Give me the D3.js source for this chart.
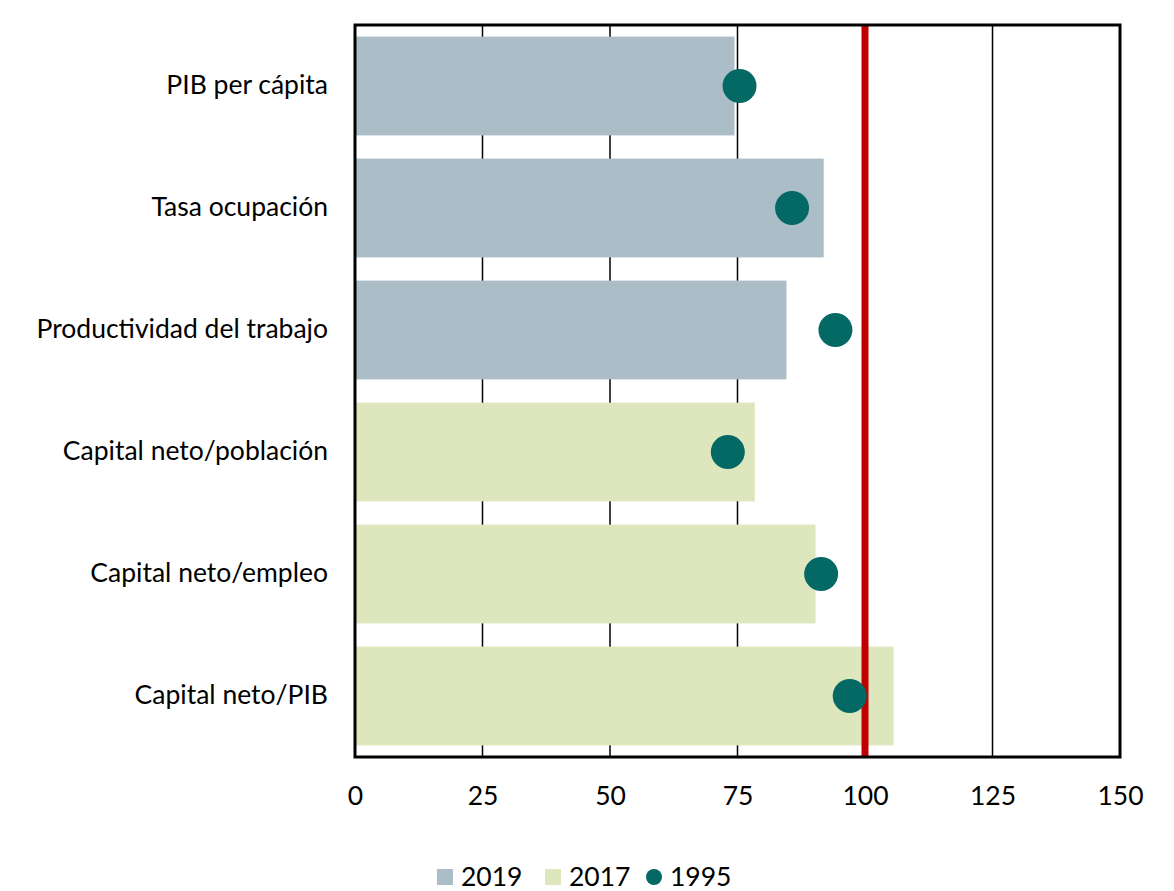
<!DOCTYPE html>
<html>
<head>
<meta charset="utf-8">
<script src="https://cdn.jsdelivr.net/npm/d3@7"></script>
<style>
  body { margin: 0; background: #fff; }
  text { font-family: Lato, "Open Sans", sans-serif; fill: #000; }
</style>
</head>
<body>
<div id="chart"></div>
<script>
// values
let categories = ["PIB per cápita", "Tasa ocupación", "Productividad del trabajo",
	"Capital neto/población", "Capital neto/empleo", "Capital neto/PIB"];
let barValues = [74.4, 91.9, 84.6, 78.4, 90.3, 105.6];
let barSeries = ["2019", "2019", "2019", "2017", "2017", "2017"];
let dotValues = [75.4, 85.7, 94.2, 73.1, 91.4, 97.0];
let xTicks = [0, 25, 50, 75, 100, 125, 150];
let refValue = 100;
let legendItems = ["2019", "2017", "1995"];

let width = 1174;
let height = 891;
let margin = {top: 25, right: 54, bottom: 134, left: 355};
let fontSize = "26.5px";

let colors = {"2019": "#abbec7", "2017": "#dee6bd", "1995": "#046864"};

let svg = d3.select("#chart")
	.append("svg")
	.attr("width", width)
	.attr("height", height);

let x = d3.scaleLinear()
	.domain([0, 150])
	.range([margin.left, width - margin.right]);

let y = d3.scaleBand()
	.domain(categories)
	.range([margin.top, height - margin.bottom])
	.paddingInner(0.19)
	.paddingOuter(0.095);

// vertical gridlines
svg.append("g")
	.selectAll("line")
	.data(xTicks.slice(1, -1))
	.enter().append("line")
	.attr("x1", d => x(d))
	.attr("x2", d => x(d))
	.attr("y1", margin.top)
	.attr("y2", height - margin.bottom)
	.attr("stroke", "#000")
	.attr("stroke-width", 1.5);

// bars
svg.append("g")
	.selectAll("rect")
	.data(categories)
	.enter().append("rect")
	.attr("x", x(0))
	.attr("y", d => y(d))
	.attr("width", (d, i) => x(barValues[i]) - x(0))
	.attr("height", y.bandwidth())
	.attr("fill", (d, i) => colors[barSeries[i]]);

// reference line at 100
svg.append("line")
	.attr("x1", x(refValue))
	.attr("x2", x(refValue))
	.attr("y1", margin.top)
	.attr("y2", height - margin.bottom)
	.attr("stroke", "#c00000")
	.attr("stroke-width", 7);

// 1995 dots
svg.append("g")
	.selectAll("circle")
	.data(categories)
	.enter().append("circle")
	.attr("cx", (d, i) => x(dotValues[i]))
	.attr("cy", d => y(d) + y.bandwidth() / 2)
	.attr("r", 17)
	.attr("fill", colors["1995"]);

// frame
svg.append("rect")
	.attr("x", margin.left)
	.attr("y", margin.top)
	.attr("width", width - margin.left - margin.right)
	.attr("height", height - margin.top - margin.bottom)
	.attr("fill", "none")
	.attr("stroke", "#000")
	.attr("stroke-width", 3);

// x axis labels
let xAxis = svg.append("g")
	.attr("transform", `translate(0,${height - margin.bottom})`)
	.call(d3.axisBottom(x).tickValues(xTicks).tickSize(0).tickPadding(29));
xAxis.select(".domain").remove();
xAxis.selectAll("text")
	.style("font-size", fontSize)
	.style("font-family", "Lato, 'Open Sans', sans-serif");

// category labels
let yAxis = svg.append("g")
	.attr("transform", `translate(${margin.left},0)`)
	.call(d3.axisLeft(y).tickSize(0).tickPadding(27));
yAxis.select(".domain").remove();
yAxis.selectAll("text")
	.style("font-size", fontSize)
	.style("font-family", "Lato, 'Open Sans', sans-serif");

// legend
let legendX = [437, 545, 646];
let legend = svg.append("g");
legendItems.forEach(function(key, i) {
	let g = legend.append("g").attr("transform", `translate(${legendX[i]},877)`);
	if (key == "1995") {
		g.append("circle").attr("cx", 8).attr("cy", 0).attr("r", 8).attr("fill", colors[key]);
	} else {
		g.append("rect").attr("x", 0).attr("y", -8).attr("width", 16).attr("height", 16).attr("fill", colors[key]);
	}
	g.append("text")
		.attr("x", 24)
		.attr("y", 0)
		.attr("dy", "0.35em")
		.style("font-size", fontSize)
		.text(key);
});
</script>
</body>
</html>
